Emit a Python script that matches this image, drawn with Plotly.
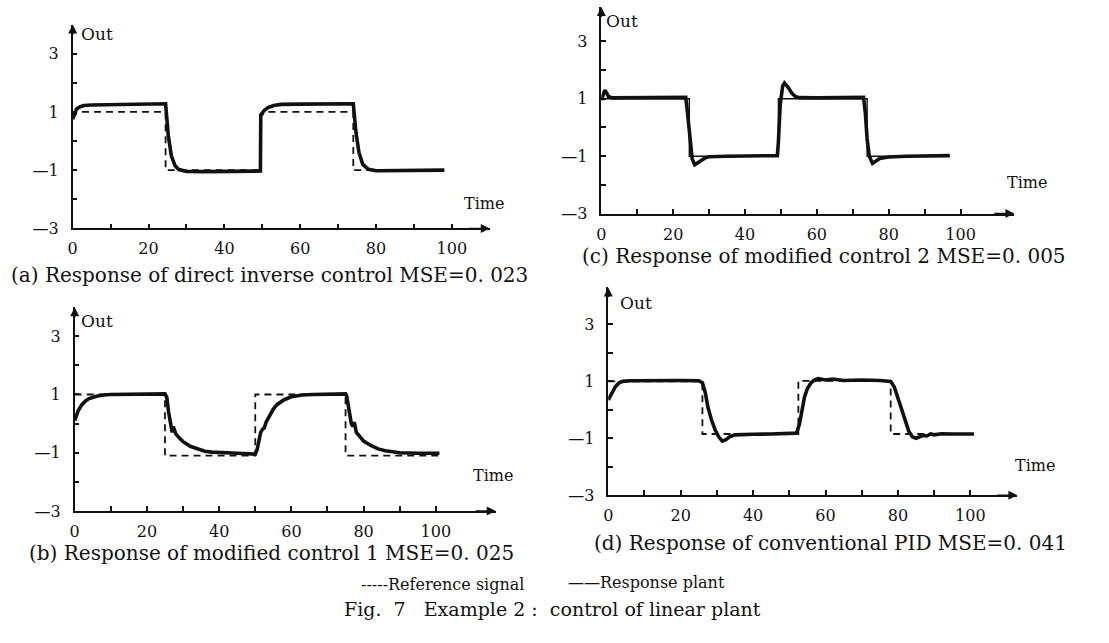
import plotly.graph_objects as go

W, H = 1109, 643

# ---------------- data ----------------
# (a) direct inverse control
a_ref_t = [0, 1, 2, 24.5, 24.5, 49.5, 49.5, 51, 74, 74, 98]
a_ref_y = [0.78, 0.95, 1.0, 1.0, -1.0, -1.0, 0.85, 1.0, 1.0, -1.0, -1.0]
a_out_t = [0, 0.5, 1, 2, 3, 5, 10, 24.5, 25.2, 26, 27, 28, 30, 35, 49.5, 49.6, 50.5, 51.5, 53, 55, 60, 74,
           74.7, 75.5, 76.5, 78, 80, 90, 98]
a_out_y = [0.75, 0.95, 1.1, 1.18, 1.22, 1.24, 1.25, 1.28, 0.2, -0.5, -0.85, -0.98, -1.04, -1.05, -1.03, 0.9,
           1.05, 1.15, 1.22, 1.26, 1.27, 1.28, 0.3, -0.4, -0.8, -0.97, -1.02, -1.01, -1.0]

# (b) modified control 1
b_ref_t = [0, 25, 25, 50, 50, 75, 75, 101]
b_ref_y = [1, 1, -1.1, -1.1, 1, 1, -1.1, -1.1]
b_out_t = [0, 0.5, 1, 2, 3, 4, 6, 8, 10, 25, 25.5, 26, 26.5, 27, 27.3, 27.7, 28, 29, 30, 32, 34, 36, 38, 40,
           45, 50, 50.5, 51, 51.5, 52, 52.5, 53, 54, 55, 56, 58, 60, 63, 66, 75, 75.3, 75.8, 76.2, 76.6, 77,
           77.4, 78, 79, 80, 82, 84, 86, 88, 90, 95, 101]
b_out_y = [0.1, 0.3, 0.45, 0.65, 0.78, 0.86, 0.94, 0.98, 1.0, 1.02, 0.9, 0.4, 0.0, -0.3, -0.1, -0.3, -0.35,
           -0.5, -0.62, -0.78, -0.88, -0.95, -0.98, -1.0, -1.02, -1.05, -0.9, -0.6, -0.3, -0.2, -0.15, 0.05,
           0.3, 0.5, 0.65, 0.82, 0.92, 0.98, 1.0, 1.02, 0.95, 0.5, 0.2, 0.0, -0.1, 0.05, -0.3, -0.45, -0.6,
           -0.75, -0.87, -0.93, -0.97, -1.0, -1.02, -1.02]

# (c) modified control 2
c_ref_t = [0, 24.5, 24.5, 49.3, 49.3, 74, 74, 97]
c_ref_y = [1, 1, -1, -1, 1, 1, -1, -1]
c_out_t = [0, 0.5, 1, 1.5, 2, 3, 5, 23.5, 24, 24.7, 25.3, 26, 27, 28, 29, 30, 35, 49, 49.3, 49.8, 50.5, 51,
           52, 53, 54, 55, 60, 73, 73.5, 74, 74.6, 75.5, 76.5, 77.5, 80, 85, 97]
c_out_y = [0.95, 1.15, 1.3, 1.2, 1.08, 1.03, 1.03, 1.05, 0.5, -0.4, -1.1, -1.3, -1.22, -1.12, -1.05, -1.02,
           -1.0, -0.98, -0.5, 0.8, 1.45, 1.55, 1.4, 1.2, 1.08, 1.04, 1.03, 1.05, 0.5, -0.4, -1.0, -1.25,
           -1.15, -1.08, -1.03, -1.0, -0.98]

# (d) conventional PID
d_ref_t = [0, 26, 26, 52.5, 52.5, 78, 78, 101]
d_ref_y = [1, 1, -0.85, -0.85, 1.02, 1.02, -0.85, -0.85]
d_out_t = [0, 1, 2, 3, 4, 6, 10, 20, 25, 26, 26.8, 27.5, 28.5, 29.5, 30.5, 31.5, 32.5, 33.5, 35, 37, 40, 45,
           52, 52.8, 53.5, 54.2, 55, 56, 57, 58, 60, 62, 65, 70, 75, 78, 79, 80, 81, 82, 83, 84, 85, 86, 87,
           88, 89, 90, 92, 95, 101]
d_out_y = [0.35, 0.6, 0.82, 0.95, 1.0, 1.02, 1.03, 1.03, 1.02, 0.95, 0.6, 0.1, -0.35, -0.7, -0.95, -1.1,
           -1.05, -0.95, -0.88, -0.86, -0.86, -0.85, -0.82, -0.5, 0.0, 0.45, 0.75, 0.95, 1.05, 1.1, 1.05,
           1.08, 1.03, 1.05, 1.03, 1.0, 0.8, 0.4, -0.05, -0.45, -0.75, -0.95, -1.0, -0.95, -0.9, -0.92,
           -0.85, -0.88, -0.84, -0.85, -0.85]

captions = [
    "(a) Response of direct inverse control MSE=0. 023",
    "(b) Response of modified control 1 MSE=0. 025",
    "(c) Response of modified control 2 MSE=0. 005",
    "(d) Response of conventional PID MSE=0. 041",
]
x_tick_vals = [0, 10, 20, 30, 40, 50, 60, 70, 80, 90, 100]
x_tick_text = ["0", "", "20", "", "40", "", "60", "", "80", "", "100"]
y_tick_vals = [-3, -2, -1, 0, 1, 2, 3]
y_tick_text = ["—3", "", "—1", "", "1", "", "3"]

INK = "#111111"
SERIF = "DejaVu Serif, Liberation Serif, serif"

# panel geometry in pixels: (x0, x1, y_bottom, y_top, xmax, ymax)
panels = {
    "a": (68, 487, 232, 25, 110.0, 4.0),
    "b": (70, 493, 519, 312, 116.6, 4.0),
    "c": (599, 1014, 217, 7, 115.0, 4.2),
    "d": (606, 1017, 503, 292, 113.0, 4.3),
}
series = {
    "a": (a_ref_t, a_ref_y, a_out_t, a_out_y, "dash"),
    "b": (b_ref_t, b_ref_y, b_out_t, b_out_y, "dash"),
    "c": (c_ref_t, c_ref_y, c_out_t, c_out_y, "solid"),
    "d": (d_ref_t, d_ref_y, d_out_t, d_out_y, "dash"),
}

fig = go.Figure()
layout = dict(
    width=W, height=H, margin=dict(l=0, r=0, t=0, b=0),
    paper_bgcolor="white", plot_bgcolor="white", showlegend=False,
)
annotations = []

for i, key in enumerate(["a", "b", "c", "d"]):
    n = "" if i == 0 else str(i + 1)
    x0, x1, yb, yt, xmax, ymax = panels[key]
    rt, ry, ot, oy, refdash = series[key]
    xa, ya = "x" + n, "y" + n
    fig.add_trace(go.Scatter(
        x=rt, y=ry, mode="lines", xaxis=xa, yaxis=ya,
        line=dict(color=INK, width=1.8 if refdash == "dash" else 1.4,
                  dash="7px,5px" if refdash == "dash" else "solid"),
        name="Reference signal"))
    fig.add_trace(go.Scatter(
        x=ot, y=oy, mode="lines", xaxis=xa, yaxis=ya,
        line=dict(color=INK, width=3.6), name="Response plant"))

    common = dict(showgrid=False, zeroline=False, showline=True, linecolor=INK, linewidth=1.5,
                  ticks="inside", ticklen=5, tickwidth=1.5, tickcolor=INK,
                  tickfont=dict(family=SERIF, size=16, color=INK))
    layout["xaxis" + n] = dict(
        domain=[x0 / W, x1 / W], range=[0, xmax], anchor=ya,
        tickmode="array", tickvals=x_tick_vals, ticktext=x_tick_text,
        ticklabelstandoff=5, **common)
    layout["yaxis" + n] = dict(
        domain=[1 - yb / H, 1 - yt / H], range=[-3, ymax], anchor=xa,
        tickmode="array", tickvals=y_tick_vals, ticktext=y_tick_text,
        ticklabelstandoff=9, **common)
    # axis arrows
    annotations.append(dict(x=xmax, y=-3, ax=xmax - 6, ay=-3, xref=xa, yref=ya, axref=xa, ayref=ya,
                            text="", showarrow=True, arrowhead=2, arrowsize=1.2, arrowwidth=1.5,
                            arrowcolor=INK))
    annotations.append(dict(x=0, y=ymax, ax=0, ay=ymax - 0.4, xref=xa, yref=ya, axref=xa, ayref=ya,
                            text="", showarrow=True, arrowhead=2, arrowsize=1.2, arrowwidth=1.5,
                            arrowcolor=INK))

PAD = 4  # annotation box padding

def txt(s, x, y, size, anchor="left"):
    annotations.append(dict(text=s, x=(x - PAD) / W, y=1 - y / H, xref="paper", yref="paper",
                            xanchor=anchor, yanchor="middle", showarrow=False,
                            font=dict(family=SERIF, size=size, color=INK)))

txt("Out", 78, 35, 17)
txt("Out", 606, 21, 17)
txt("Out", 78, 326, 17)
txt("Out", 620, 308, 17)
txt("Time", 463, 207, 16)
txt("Time", 1009, 185, 16)
txt("Time", 472, 483, 16)
txt("Time", 1017, 473, 16)

txt(captions[0], 8, 279, 20)
txt(captions[1], 26, 562, 20)
txt(captions[2], 582, 260, 20)
txt(captions[3], 594, 552, 20)

txt("-----Reference signal", 360, 594, 16)
txt("——Response plant", 568, 592, 16)
txt("Fig.  7   Example 2 :  control of linear plant", 343, 619, 19)

layout["annotations"] = annotations
fig.update_layout(**layout)
fig.write_html("out.html", config={"displayModeBar": False},
               post_script="document.body.style.margin='0';document.body.style.overflow='hidden';")
